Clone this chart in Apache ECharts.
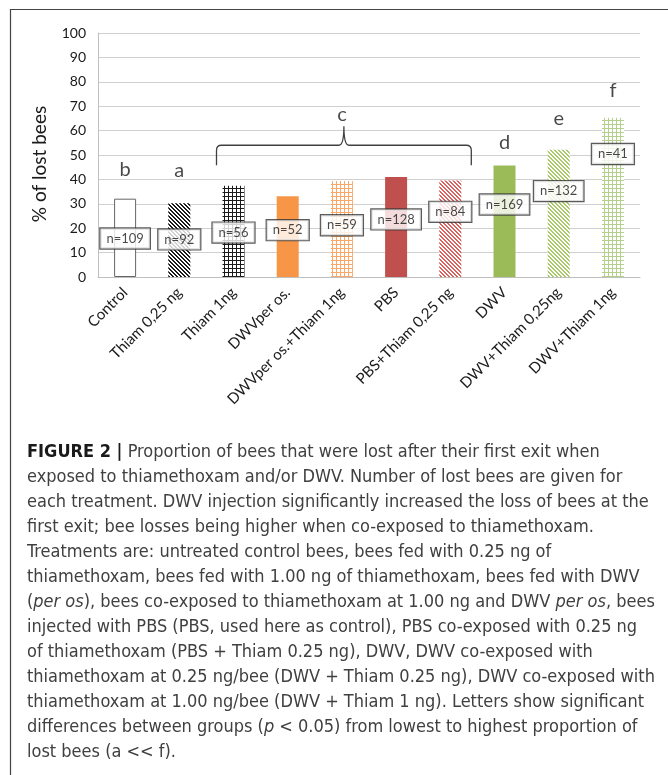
<!DOCTYPE html>
<html>
<head>
<meta charset="utf-8">
<script src="https://cdn.jsdelivr.net/npm/echarts@6/dist/echarts.min.js"></script>
<style>
  html, body { margin: 0; padding: 0; background: #fff; }
  #chart { width: 668px; height: 775px; }
</style>
</head>
<body>
<div id="chart"></div>
<script>
// treatments on the x axis
var categories = ["Control", "Thiam 0,25 ng", "Thiam 1ng", "DWVper os.", "DWVper os.+Thiam 1ng",
  "PBS", "PBS+Thiam 0,25 ng", "DWV", "DWV+Thiam 0,25ng", "DWV+Thiam 1ng"];
// % of lost bees
var lostPct = [32.1, 30.2, 37.4, 33.1, 39.3, 41.0, 39.6, 45.7, 52.2, 65.3];
// number of lost bees, and the level where each box sits
var nLabels = ["n=109", "n=92", "n=56", "n=52", "n=59", "n=128", "n=84", "n=169", "n=132", "n=41"];
var nLevels = [15.8, 15.4, 18.2, 19.2, 21.2, 23.6, 26.7, 29.7, 35.2, 50.4];
// significance letters: [category index, level, letter]
var letters = [[0, 44, "b"], [1, 43.8, "a"], [4, 66.5, "c"], [7, 55.3, "d"], [8, 64.9, "e"], [9, 76.5, "f"]];
// brace over group c: from category, to category, end level, line level, tip level
var brace = [2, 6, 45.8, 54, 61.8];
var yTicks = { min: 0, max: 100, interval: 10 };

var chart = echarts.init(document.getElementById("chart"));

// small tiles for the hatch fills
function stripes(color, size, thick) {
  var c = document.createElement("canvas");
  c.width = size; c.height = size;
  var ctx = c.getContext("2d");
  ctx.fillStyle = "#fff";
  ctx.fillRect(0, 0, size, size);
  ctx.fillStyle = color;
  for (var y = 0; y < size; y++) {
    for (var x = 0; x < size; x++) {
      if (((x - y) % size + size) % size < thick) ctx.fillRect(x, y, 1, 1);
    }
  }
  return { image: c, repeat: "repeat" };
}
function grid(color, size) {
  var c = document.createElement("canvas");
  c.width = size; c.height = size;
  var ctx = c.getContext("2d");
  ctx.fillStyle = "#fff";
  ctx.fillRect(0, 0, size, size);
  ctx.fillStyle = color;
  ctx.fillRect(0, 0, size, 1);
  ctx.fillRect(0, 0, 1, size);
  return { image: c, repeat: "repeat" };
}

var fills = [
  "#fff",
  stripes("#1a1a1a", 4, 2),
  grid("#1a1a1a", 4),
  "#F79646",
  grid("#F9A86A", 4),
  "#C0504D",
  stripes("#D9625F", 4, 2),
  "#9BBB59",
  stripes("#A9C96A", 4, 2),
  grid("#B5D08A", 4)
];

var barData = lostPct.map(function (v, i) {
  var item = { value: v, itemStyle: { color: fills[i] } };
  if (i === 0) {
    item.itemStyle.borderColor = "#666";
    item.itemStyle.borderWidth = 1;
  }
  return item;
});

var boxData = nLevels.map(function (v, i) {
  return { value: [i, v], name: nLabels[i] };
});
var letterData = letters.map(function (l) {
  return { value: [l[0], l[1]], name: l[2] };
});

var captionFont = "'DejaVu Sans Condensed', 'Liberation Sans Narrow', sans-serif";
var captionLines = [
  "{b|FIGURE 2 |} Proportion of bees that were lost after their first exit when",
  "exposed to thiamethoxam and/or DWV. Number of lost bees are given for",
  "each treatment. DWV injection significantly increased the loss of bees at the",
  "first exit; bee losses being higher when co-exposed to thiamethoxam.",
  "Treatments are: untreated control bees, bees fed with 0.25 ng of",
  "thiamethoxam, bees fed with 1.00 ng of thiamethoxam, bees fed with DWV",
  "({i|per os}), bees co-exposed to thiamethoxam at 1.00 ng and DWV {i|per os}, bees",
  "injected with PBS (PBS, used here as control), PBS co-exposed with 0.25 ng",
  "of thiamethoxam (PBS + Thiam 0.25 ng), DWV, DWV co-exposed with",
  "thiamethoxam at 0.25 ng/bee (DWV + Thiam 0.25 ng), DWV co-exposed with",
  "thiamethoxam at 1.00 ng/bee (DWV + Thiam 1 ng). Letters show significant",
  "differences between groups ({i|p} < 0.05) from lowest to highest proportion of",
  "lost bees (a << f)."
];

var graphics = [
  {
    type: "rect",
    shape: { x: 10.5, y: 9.5, width: 700, height: 800 },
    style: { fill: "none", stroke: "#444", lineWidth: 1.2 },
    silent: true
  },
  {
    type: "text",
    x: 40, y: 164,
    rotation: Math.PI / 2,
    style: {
      text: "% of lost bees",
      font: "19px Lato",
      fill: "#1a1a1a",
      align: "center",
      verticalAlign: "middle"
    }
  }
];
captionLines.forEach(function (line, i) {
  graphics.push({
    type: "text",
    x: 27,
    y: 452 + i * 25,
    style: {
      text: line,
      fontFamily: captionFont,
      fontSize: 18,
      fill: "#404040",
      verticalAlign: "middle",
      rich: {
        b: { fontFamily: captionFont, fontSize: 18, fontWeight: "bold", fill: "#1a1a1a" },
        i: { fontFamily: captionFont, fontSize: 18, fontStyle: "italic", fill: "#404040" }
      }
    }
  });
});

chart.setOption({
  animation: false,
  grid: { left: 98, right: 28, top: 33, height: 244 },
  xAxis: {
    type: "category",
    data: categories,
    axisLine: { lineStyle: { color: "#bfbfbf", width: 1 } },
    axisTick: { show: false },
    axisLabel: {
      interval: 0,
      rotate: 45,
      margin: 13,
      fontFamily: "Lato",
      fontSize: 15,
      color: "#1a1a1a"
    }
  },
  yAxis: {
    type: "value",
    min: yTicks.min,
    max: yTicks.max,
    interval: yTicks.interval,
    axisLine: { show: true, lineStyle: { color: "#bfbfbf" } },
    axisTick: { show: false },
    splitLine: { lineStyle: { color: "#d0d0d0" } },
    axisLabel: { margin: 12, fontFamily: "Lato", fontSize: 14, color: "#1a1a1a" }
  },
  graphic: graphics,
  series: [
    {
      type: "bar",
      data: barData,
      barWidth: 22,
      z: 2
    },
    {
      type: "custom",
      data: [[brace[0], brace[3]]],
      z: 3,
      silent: true,
      clip: false,
      renderItem: function (params, api) {
        var x0 = api.coord([brace[0], 0])[0] - 17;
        var x1 = api.coord([brace[1], 0])[0] + 21;
        var xm = (x0 + x1) / 2;
        var yEnd = api.coord([0, brace[2]])[1];
        var yLine = api.coord([0, brace[3]])[1];
        var yTip = api.coord([0, brace[4]])[1];
        var r = 5;
        var d = "M" + x0 + "," + yEnd +
          " L" + x0 + "," + (yLine + r) +
          " Q" + x0 + "," + yLine + " " + (x0 + r) + "," + yLine +
          " L" + (xm - r) + "," + yLine +
          " Q" + xm + "," + yLine + " " + xm + "," + yTip +
          " Q" + xm + "," + yLine + " " + (xm + r) + "," + yLine +
          " L" + (x1 - r) + "," + yLine +
          " Q" + x1 + "," + yLine + " " + x1 + "," + (yLine + r) +
          " L" + x1 + "," + yEnd;
        return {
          type: "path",
          shape: { pathData: d },
          style: { fill: "none", stroke: "#404040", lineWidth: 1.3 }
        };
      }
    },
    {
      type: "scatter",
      data: boxData,
      symbolSize: 1,
      itemStyle: { color: "rgba(0,0,0,0)" },
      z: 4,
      silent: true,
      label: {
        show: true,
        position: "inside",
        formatter: "{b}",
        fontFamily: "Lato",
        fontSize: 13,
        color: "#1a1a1a",
        textBorderWidth: 0,
        backgroundColor: "#fff",
        borderColor: "#333",
        borderWidth: 1.2,
        padding: [4, 6, 3, 6]
      }
    },
    {
      type: "scatter",
      data: letterData,
      symbolSize: 1,
      itemStyle: { color: "rgba(0,0,0,0)" },
      z: 4,
      silent: true,
      label: {
        show: true,
        position: "inside",
        formatter: "{b}",
        fontFamily: "Lato",
        fontSize: 20,
        color: "#1a1a1a",
        textBorderWidth: 0
      }
    }
  ]
});
</script>
</body>
</html>
